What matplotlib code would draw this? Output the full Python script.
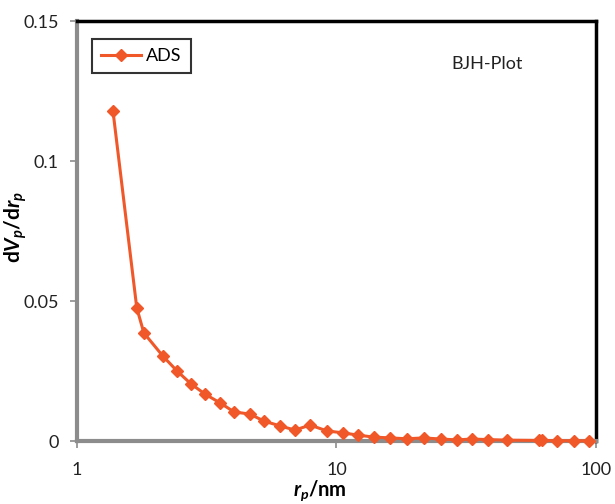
import matplotlib
matplotlib.use("Agg")
import matplotlib.pyplot as plt
from matplotlib.ticker import FixedLocator, NullLocator

plt.rcParams['font.family'] = ['Lato', 'DejaVu Sans']
plt.rcParams['mathtext.fontset'] = 'custom'
plt.rcParams['mathtext.rm'] = 'Lato'
plt.rcParams['mathtext.bf'] = 'Lato:bold'
plt.rcParams['mathtext.it'] = 'Lato:italic:bold'

# BJH pore size distribution (adsorption branch)
pore_radius = [1.376, 1.70, 1.81, 2.14, 2.43, 2.75, 3.11, 3.56, 4.03, 4.64,
               5.26, 6.06, 6.92, 7.91, 9.19, 10.6, 12.1, 13.9, 16.1, 18.7,
               21.7, 25.3, 29.1, 33.3, 38.4, 45.4, 60.3, 61.9, 70.8, 82.3, 94.0]
dv_dr = [0.1179, 0.0475, 0.0386, 0.0304, 0.0250, 0.0204, 0.0168, 0.0136, 0.0104, 0.0096,
         0.0071, 0.0054, 0.0039, 0.0057, 0.0036, 0.0029, 0.0021, 0.0014, 0.0011, 0.0008,
         0.0011, 0.0007, 0.0004, 0.0007, 0.0005, 0.0003, 0.0002, 0.0002, 0.0001, 0.0001, 0.00005]
y_ticks = [0, 0.05, 0.1, 0.15]
y_tick_labels = ["0", "0.05", "0.1", "0.15"]
x_ticks = [1, 10, 100]

fig = plt.figure(figsize=(6.15, 5.04), dpi=100)
ax = fig.add_axes([0.1252, 0.125, 0.8438, 0.8333])

ax.plot(pore_radius, dv_dr, color="#F0582A", lw=2.2, marker="D", ms=6,
        label="ADS", zorder=3, clip_on=False)

ax.set_xscale("log")
ax.set_xlim(1, 100)
ax.set_ylim(0, 0.15)
ax.xaxis.set_major_locator(FixedLocator(x_ticks))
ax.xaxis.set_minor_locator(NullLocator())
ax.set_xticklabels(["1", "10", "100"])
ax.set_yticks(y_ticks)
ax.set_yticklabels(y_tick_labels)
ax.tick_params(axis="both", direction="out", length=5, width=1.2, color="#8c8c8c",
               labelsize=13, labelcolor="#222222", pad=8)
ax.tick_params(axis="x", pad=10)

# plot-area frame: gray axis lines, black border
for side in ("top", "right"):
    ax.spines[side].set_color("black")
    ax.spines[side].set_linewidth(2.5)
ax.spines["left"].set_color("#8c8c8c")
ax.spines["left"].set_linewidth(3)
ax.spines["bottom"].set_color("#8c8c8c")
ax.spines["bottom"].set_linewidth(3)
ax.axhline(0, color="black", lw=1.5, zorder=2.5)

leg = ax.legend(loc="upper left", bbox_to_anchor=(0.012, 0.978), fontsize=13,
                frameon=True, fancybox=False, handlelength=2.2, borderpad=0.5,
                handletextpad=0.3)
leg.get_frame().set_edgecolor("black")
leg.get_frame().set_linewidth(1.5)

ax.text(0.79, 0.897, "BJH-Plot", transform=ax.transAxes, fontsize=13,
        ha="center", va="center", color="#222222")

fig.text(0.52, 0.002, r"$r_p\mathbf{/nm}$", fontsize=14.5, ha="center", va="bottom")
fig.text(0.025, 0.55, r"$\mathbf{d}V_p\mathbf{/d}r_p$", fontsize=15, rotation=90,
         ha="center", va="center")

fig.savefig("out.png", dpi=100)
